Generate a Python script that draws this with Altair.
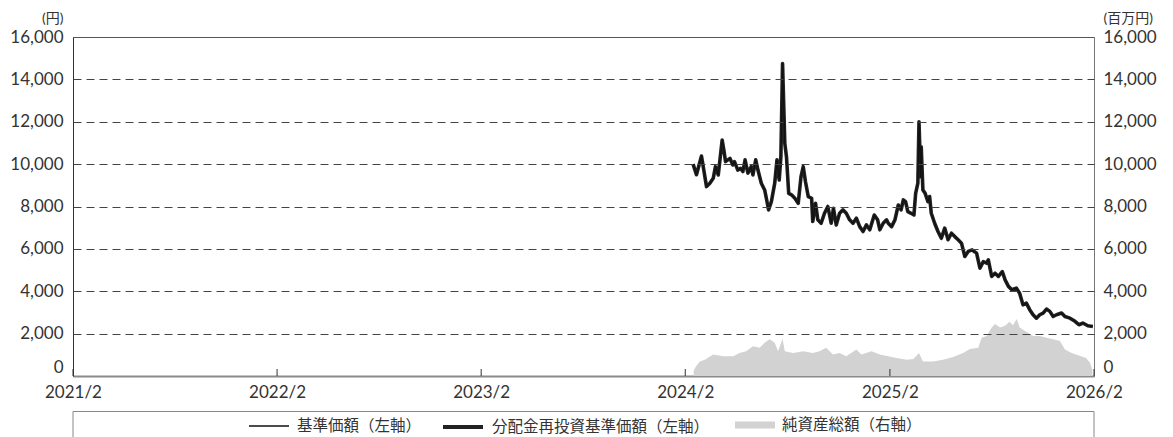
import altair as alt
import pandas as pd

FONT = "Noto Sans CJK JP"
NUM_FONT = "Lato, Noto Sans CJK JP"
TEXT = "#333333"

S_BASE = "基準価額（左軸）"
S_RE = "分配金再投資基準価額（左軸）"
S_NAV = "純資産総額（右軸）"

price_dates = [
    "2024-02-15", "2024-02-21", "2024-03-01", "2024-03-10", "2024-03-16", "2024-03-22",
    "2024-03-26", "2024-03-31", "2024-04-07", "2024-04-10", "2024-04-13", "2024-04-21",
    "2024-04-26", "2024-04-29", "2024-05-05", "2024-05-10", "2024-05-14", "2024-05-18",
    "2024-05-23", "2024-05-29", "2024-06-01", "2024-06-06", "2024-06-10", "2024-06-16",
    "2024-06-22", "2024-06-25", "2024-06-29", "2024-07-04", "2024-07-10", "2024-07-14",
    "2024-07-18", "2024-07-21", "2024-07-24", "2024-07-28", "2024-07-31", "2024-08-04",
    "2024-08-09", "2024-08-15", "2024-08-21", "2024-08-26", "2024-08-30", "2024-09-03",
    "2024-09-08", "2024-09-14", "2024-09-16", "2024-09-21", "2024-09-25", "2024-10-01",
    "2024-10-07", "2024-10-13", "2024-10-19", "2024-10-23", "2024-10-28", "2024-11-03",
    "2024-11-09", "2024-11-15", "2024-11-21", "2024-11-27", "2024-12-03", "2024-12-09",
    "2024-12-15", "2024-12-21", "2024-12-27", "2025-01-04", "2025-01-10", "2025-01-14",
    "2025-01-20", "2025-01-26", "2025-01-29", "2025-02-04", "2025-02-10", "2025-02-16",
    "2025-02-21", "2025-02-25", "2025-03-01", "2025-03-05", "2025-03-11", "2025-03-16",
    "2025-03-19", "2025-03-23", "2025-03-25", "2025-03-28", "2025-03-29", "2025-04-01",
    "2025-04-05", "2025-04-10", "2025-04-13", "2025-04-16", "2025-04-22", "2025-04-28",
    "2025-05-04", "2025-05-10", "2025-05-16", "2025-05-22", "2025-05-28", "2025-06-03",
    "2025-06-09", "2025-06-15", "2025-06-21", "2025-06-28", "2025-07-06", "2025-07-12",
    "2025-07-18", "2025-07-24", "2025-07-27", "2025-08-02", "2025-08-08", "2025-08-14",
    "2025-08-21", "2025-08-26", "2025-09-01", "2025-09-07", "2025-09-15", "2025-09-21",
    "2025-09-27", "2025-10-03", "2025-10-09", "2025-10-15", "2025-10-21", "2025-10-27",
    "2025-11-02", "2025-11-08", "2025-11-14", "2025-11-20", "2025-11-26", "2025-12-05",
    "2025-12-11", "2025-12-20", "2025-12-29", "2026-01-05", "2026-01-12", "2026-01-21",
    "2026-01-30",
]
base_price = [
    10000, 9500, 10380, 8940, 9100, 9330,
    9880, 9490, 11140, 10670, 10120, 10270,
    9960, 10120, 9720, 9800, 9650, 10200,
    9570, 9880, 9490, 10200, 9720, 9100,
    8780, 8390, 7840, 8230, 9100, 10200,
    9250, 10350, 14750, 10980, 10350, 8620,
    8550, 8390, 8150, 9410, 9880, 9170,
    8470, 8390, 7290, 8150, 7370, 7210,
    7680, 8000, 7210, 7920, 7130, 7680,
    7840, 7680, 7370, 7210, 7450, 7050,
    6820, 7130, 6900, 7600, 7370, 6900,
    7210, 7370, 7210, 7050, 7370, 8070,
    7840, 8310, 8230, 7760, 7680, 7600,
    8620, 9100, 12000, 9410, 10820, 8780,
    8620, 8230, 8470, 7680, 7210, 6820,
    6500, 6980, 6430, 6740, 6580, 6430,
    6270, 5640, 5880, 5950, 5800, 5090,
    5400, 5330, 5480, 4700, 4850, 4700,
    4930, 4540, 4230, 4070, 4150, 3910,
    3360, 3440, 3130, 2890, 2730, 2890,
    2970, 3160, 3050, 2810, 2890, 2970,
    2810, 2730, 2580, 2420, 2500, 2370,
    2340,
]
# no distributions were paid, so the reinvested price equals the base price
reinvest_price = list(base_price)

nav_dates = [
    "2024-02-16", "2024-02-20", "2024-02-27", "2024-03-07", "2024-03-22", "2024-04-09",
    "2024-04-27", "2024-05-08", "2024-05-20", "2024-06-01", "2024-06-13", "2024-06-22",
    "2024-07-01", "2024-07-10", "2024-07-16", "2024-07-24", "2024-07-28", "2024-08-12",
    "2024-08-30", "2024-09-16", "2024-09-28", "2024-10-10", "2024-10-22", "2024-11-03",
    "2024-11-15", "2024-12-03", "2024-12-12", "2024-12-30", "2025-01-14", "2025-01-29",
    "2025-02-13", "2025-03-03", "2025-03-15", "2025-03-25", "2025-04-01", "2025-04-19",
    "2025-05-07", "2025-05-25", "2025-06-12", "2025-06-24", "2025-07-09", "2025-07-15",
    "2025-07-24", "2025-08-02", "2025-08-08", "2025-08-17", "2025-08-26", "2025-09-03",
    "2025-09-09", "2025-09-16", "2025-09-21", "2025-09-30", "2025-10-15", "2025-10-27",
    "2025-11-08", "2025-11-20", "2025-12-02", "2025-12-11", "2025-12-23", "2026-01-06",
    "2026-01-18", "2026-01-25", "2026-01-29",
]
nav_values = [
    250, 450, 690, 770, 1010, 930,
    930, 1090, 1170, 1410, 1330, 1570,
    1730, 1570, 1170, 1760, 1170, 1090,
    1170, 1090, 1170, 1330, 1010, 1090,
    930, 1250, 1010, 1170, 1010, 930,
    850, 770, 800, 1090, 690, 690,
    770, 900, 1090, 1280, 1330, 1810,
    1890, 2290, 2450, 2290, 2370, 2560,
    2400, 2690, 2290, 2130, 1890, 1890,
    1810, 1730, 1650, 1250, 1090, 960,
    850, 610, 300,
]
assert len(price_dates) == len(base_price)
assert len(nav_dates) == len(nav_values)

year_ticks = ["2021-02-01", "2022-02-01", "2023-02-01", "2024-02-01", "2025-02-01", "2026-02-01"]
y_ticks = [0, 2000, 4000, 6000, 8000, 10000, 12000, 14000, 16000]

C_BASE, C_RE, C_NAV = "#111111", "#3a3a3a", "#d2d2d2"

df_base = pd.DataFrame({"date": price_dates, "value": base_price, "series": S_BASE})
df_re = pd.DataFrame({"date": price_dates, "value": reinvest_price, "series": S_RE})
df_nav = pd.DataFrame({"date": nav_dates, "value": nav_values, "series": S_NAV})
df_ticks = pd.DataFrame({"date": year_ticks})
df_box = pd.DataFrame({"k": [0]})

W, H = 1021, 339
LEG_Y = 368
LABEL_SIZE = 17

x_axis = alt.Axis(
    values=[alt.DateTime(year=int(d[:4]), month=2, date=1, utc=True) for d in year_ticks],
    format="%Y/%-m", labelFlush=False, labelOverlap=False, ticks=False, grid=False,
    domainColor="#8a8a8a", domainWidth=2, labelFont=NUM_FONT, labelFontSize=LABEL_SIZE,
    labelColor=TEXT, labelPadding=8, title=None,
)
x_scale = alt.Scale(
    type="utc", nice=False,
    domain=[alt.DateTime(year=2021, month=2, date=1, utc=True),
            alt.DateTime(year=2026, month=2, date=1, utc=True)],
)
X = alt.X("date:T", scale=x_scale, axis=x_axis, title=None)

zero_baseline = {"condition": {"test": "datum.value === 0", "value": "bottom"}, "value": "middle"}

axis_common = dict(
    values=y_ticks, format=",.0f", titleAngle=0, titleBaseline="middle", titleY=-19,
    titleFont=NUM_FONT, titleFontSize=14, titleFontWeight="normal", titleColor=TEXT,
    labelFont=NUM_FONT, labelFontSize=LABEL_SIZE, labelColor=TEXT, ticks=False,
    labelBaseline=zero_baseline,
)
left_axis = alt.Axis(
    orient="left", title="(円)", titleAlign="right", titleX=-10, labelPadding=10,
    domainColor="#333333", grid=True, gridColor="#444444", gridDash=[8, 5], gridWidth=1,
    gridOpacity={"condition": {"test": "datum.value === 0 || datum.value === 16000", "value": 0}, "value": 1},
    zindex=1, **axis_common,
)
right_axis = alt.Axis(
    orient="right", title="(百万円)", titleAlign="left", titleX=9, labelPadding=9,
    domainColor="#777777", grid=False, **axis_common,
)
y_scale = alt.Scale(domain=[0, 16000], nice=False)


def legend(x, **kw):
    return alt.Legend(
        title=None, orient="none", legendX=x, legendY=LEG_Y, symbolSize=1600,
        labelFontSize=15.5, labelColor=TEXT, labelFont=FONT, labelOffset=7,
        labelLimit=0, padding=0, symbolOpacity=1, **kw,
    )


area = alt.Chart(df_nav).mark_area(opacity=1).encode(
    x=X, y=alt.Y("value:Q", scale=y_scale, axis=right_axis),
    color=alt.Color("series:N", scale=alt.Scale(domain=[S_NAV], range=[C_NAV]),
                    legend=legend(662, symbolType="M-1,-0.18H1V0.18H-1Z", symbolStrokeWidth=0)),
)
re_line = alt.Chart(df_re).mark_line(strokeWidth=3.6, strokeJoin="round").encode(
    x=X, y=alt.Y("value:Q", scale=y_scale, axis=left_axis),
    color=alt.Color("series:N", scale=alt.Scale(domain=[S_RE], range=["#222222"]),
                    legend=legend(368, symbolType="stroke", symbolStrokeWidth=4,
                                  symbolStrokeColor=C_RE)),
)
base_line = alt.Chart(df_base).mark_line(strokeWidth=1.2, strokeJoin="round").encode(
    x=X, y=alt.Y("value:Q", scale=y_scale, axis=left_axis),
    color=alt.Color("series:N", scale=alt.Scale(domain=[S_BASE], range=[C_BASE]),
                    legend=legend(175, symbolType="stroke", symbolStrokeWidth=1.6)),
)
lines = alt.layer(re_line, base_line).resolve_scale(color="independent").resolve_legend(color="independent")

ticks = alt.Chart(df_ticks).mark_rule(color="#333333", strokeWidth=1).encode(
    x=X, y=alt.value(H), y2=alt.value(H - 7),
)
box = alt.Chart(df_box).mark_rect(fillOpacity=0, stroke="#888888", strokeWidth=1).encode(
    x=alt.value(0), x2=alt.value(W), y=alt.value(374.5), y2=alt.value(440),
)

chart = alt.layer(area, lines, ticks, box).resolve_scale(
    y="independent", color="independent"
).resolve_legend(color="independent").properties(
    width=W, height=H,
    padding={"left": 65, "top": 29, "right": 70, "bottom": 61},
    autosize=alt.AutoSizeParams(type="none"),
).configure(font=FONT).configure_view(stroke="#555555", strokeWidth=1)

chart.save("out.html", embed_options={"renderer": "svg", "actions": False})
